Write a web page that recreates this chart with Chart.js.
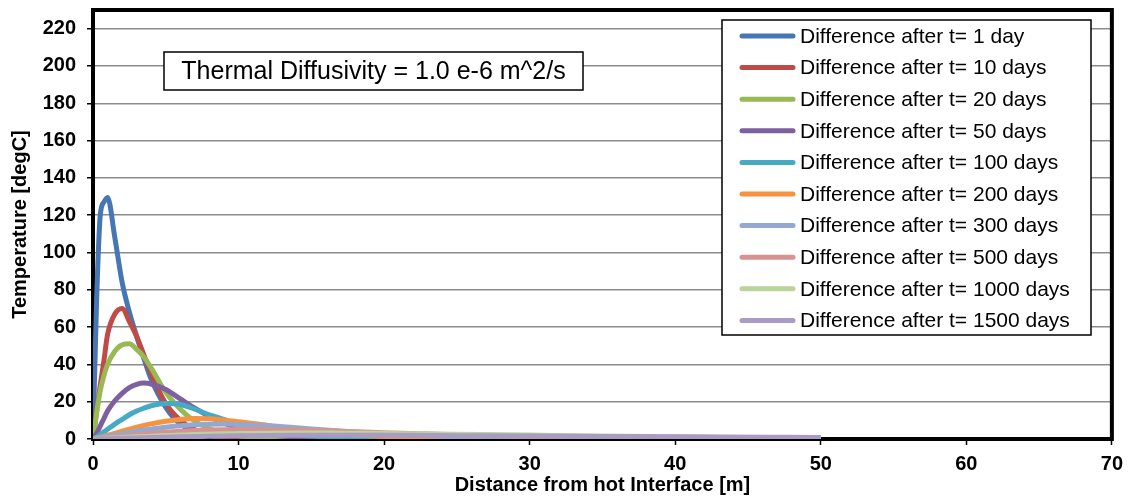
<!DOCTYPE html>
<html>
<head>
<meta charset="utf-8">
<script src="https://cdn.jsdelivr.net/npm/chart.js@4"></script>
<style>
  html, body { margin: 0; padding: 0; background: #fff; }
  #wrap { width: 1130px; height: 497px; }
</style>
</head>
<body>
<div id="wrap"><canvas id="chart"></canvas></div>
<script>
// distance from hot interface [m]
const distances = [0, 0.25, 0.5, 0.75, 1, 1.5, 2, 2.5, 3, 3.5, 4, 5, 6, 7, 8, 9, 10, 12, 14, 16, 18, 20, 25, 30, 35, 40, 45, 50];

const labels = [
    'Difference after t= 1 day',
    'Difference after t= 10 days',
    'Difference after t= 20 days',
    'Difference after t= 50 days',
    'Difference after t= 100 days',
    'Difference after t= 200 days',
    'Difference after t= 300 days',
    'Difference after t= 500 days',
    'Difference after t= 1000 days',
    'Difference after t= 1500 days'
];
const colors = ['#4676B4', '#BE4B48', '#98B954', '#7D60A0', '#46AAC5', '#F69240', '#93A9D1', '#D69391', '#BBD49A', '#A99BC3'];

// temperature difference [degC]
const t1    = [0, 75, 120, 127, 129.5, 108, 84, 68, 55, 43, 32, 17, 8, 4, 1.8, 0.8, 0.4, 0.1, 0, 0, 0, 0, 0, 0, 0, 0, 0, 0];
const t10   = [0, 15, 29, 42, 56, 67, 70, 63, 55, 45, 35, 19, 10, 5, 2.5, 1.2, 0.6, 0.2, 0.1, 0, 0, 0, 0, 0, 0, 0, 0, 0];
const t20   = [0, 14, 26, 34, 40, 47, 50.5, 51, 48, 44, 38, 25, 16, 9.5, 5.5, 3, 1.8, 0.6, 0.2, 0.1, 0, 0, 0, 0, 0, 0, 0, 0];
const t50   = [0, 3, 7, 11, 15, 20.5, 24.5, 27.5, 29.3, 30, 29.5, 26.5, 21.5, 16.5, 12, 8.5, 6, 2.5, 1, 0.4, 0.2, 0.1, 0, 0, 0, 0, 0, 0];
const t100  = [0, 1, 2.5, 3.8, 5.2, 8, 10.5, 13, 15, 16.5, 17.8, 19, 18.5, 16, 13, 10.5, 8, 4.5, 2.3, 1.1, 0.5, 0.2, 0.05, 0, 0, 0, 0, 0];
const t200  = [0, 0.5, 1, 1.5, 2, 3, 4.2, 5.3, 6.3, 7.3, 8.1, 9.5, 10.5, 11, 10.8, 10, 9.2, 7.3, 5.3, 3.6, 2.3, 1.4, 0.4, 0.1, 0, 0, 0, 0];
const t300  = [0, 0.4, 0.8, 1.1, 1.5, 2.2, 2.9, 3.6, 4.2, 4.8, 5.3, 6.3, 7.1, 7.6, 7.9, 8, 7.8, 7.1, 6, 4.8, 3.7, 2.8, 1.2, 0.5, 0.2, 0.1, 0, 0];
const t500  = [0, 0.2, 0.4, 0.6, 0.8, 1.2, 1.6, 2, 2.3, 2.7, 3, 3.6, 4.1, 4.5, 4.8, 5, 5.1, 5.1, 4.8, 4.4, 3.9, 3.4, 2.3, 1.4, 0.8, 0.5, 0.3, 0.2];
const t1000 = [0, 0.1, 0.2, 0.3, 0.4, 0.6, 0.8, 1, 1.2, 1.3, 1.5, 1.8, 2.1, 2.4, 2.6, 2.8, 2.9, 3.1, 3.2, 3.2, 3.1, 3, 2.6, 2.1, 1.6, 1.2, 0.9, 0.6];
const t1500 = [0, 0.05, 0.1, 0.15, 0.2, 0.3, 0.4, 0.5, 0.6, 0.7, 0.8, 1, 1.2, 1.3, 1.5, 1.6, 1.7, 1.9, 2, 2, 2, 2, 1.8, 1.6, 1.4, 1.2, 1, 0.8];

const series = [t1, t10, t20, t50, t100, t200, t300, t500, t1000, t1500];

const xTicks = [0, 10, 20, 30, 40, 50, 60, 70];
const yTicks = [0, 20, 40, 60, 80, 100, 120, 140, 160, 180, 200, 220];

const noteText = 'Thermal Diffusivity = 1.0 e-6 m^2/s';

const datasets = series.map((vals, i) => ({
    label: labels[i],
    data: vals.map((v, j) => ({ x: distances[j], y: v })),
    borderColor: colors[i],
    backgroundColor: colors[i],
    borderWidth: 5,
    pointRadius: 0,
    fill: false,
    cubicInterpolationMode: 'monotone',
    order: series.length - i
}));

// black frame around plot area, under the lines
const framePlugin = {
    id: 'frame',
    beforeDatasetsDraw(chart) {
        const a = chart.chartArea;
        const ctx = chart.ctx;
        ctx.save();
        ctx.strokeStyle = '#000';
        ctx.lineWidth = 4;
        ctx.strokeRect(a.left, a.top, a.right - a.left, a.bottom - a.top);
        ctx.restore();
    }
};

// note box and legend box drawn inside the plot
const boxesPlugin = {
    id: 'boxes',
    afterDatasetsDraw(chart) {
        const ctx = chart.ctx;
        ctx.save();

        // note box
        ctx.fillStyle = '#fff';
        ctx.fillRect(164, 52, 419, 38);
        ctx.strokeStyle = '#000';
        ctx.lineWidth = 1.5;
        ctx.strokeRect(164, 52, 419, 38);
        ctx.fillStyle = '#000';
        ctx.font = '25px "Liberation Sans", Arial, sans-serif';
        ctx.textAlign = 'center';
        ctx.textBaseline = 'middle';
        ctx.fillText(noteText, 373.5, 72);

        // legend
        ctx.fillStyle = '#fff';
        ctx.fillRect(722, 20, 369, 315);
        ctx.strokeStyle = '#000';
        ctx.lineWidth = 1.5;
        ctx.strokeRect(722, 20, 369, 315);
        ctx.font = '21px "Liberation Sans", Arial, sans-serif';
        ctx.textAlign = 'left';
        ctx.textBaseline = 'middle';
        chart.data.datasets.forEach((ds, i) => {
            const y = 36 + i * 31.6;
            ctx.strokeStyle = ds.borderColor;
            ctx.lineWidth = 5;
            ctx.lineCap = 'round';
            ctx.beginPath();
            ctx.moveTo(742, y);
            ctx.lineTo(793, y);
            ctx.stroke();
            ctx.fillStyle = '#000';
            ctx.fillText(ds.label, 800, y + 1);
        });
        ctx.restore();
    }
};

new Chart(document.getElementById('chart'), {
    type: 'line',
    data: { datasets: datasets },
    plugins: [framePlugin, boxesPlugin],
    options: {
        responsive: true,
        maintainAspectRatio: false,
        animation: false,
        layout: { padding: { top: 10, right: 18, left: 0, bottom: 0 } },
        plugins: {
            legend: { display: false },
            tooltip: { enabled: false }
        },
        scales: {
            x: {
                type: 'linear',
                min: 0,
                max: 70,
                afterBuildTicks: scale => { scale.ticks = xTicks.map(v => ({ value: v })); },
                afterFit: scale => { scale.height = 58; },
                border: { display: false },
                grid: {
                    drawOnChartArea: false,
                    drawTicks: true,
                    tickLength: 6,
                    tickColor: '#000',
                    tickWidth: 1.5
                },
                ticks: {
                    color: '#000',
                    padding: 7,
                    maxRotation: 0,
                    font: { family: '"Liberation Sans", Arial, sans-serif', size: 20, weight: 'bold' }
                },
                title: {
                    display: true,
                    text: 'Distance from hot Interface [m]',
                    color: '#000',
                    padding: { top: 0, bottom: 0 },
                    font: { family: '"Liberation Sans", Arial, sans-serif', size: 20, weight: 'bold' }
                }
            },
            y: {
                min: 0,
                max: 230,
                afterBuildTicks: scale => { scale.ticks = yTicks.map(v => ({ value: v })); },
                afterFit: scale => {
                    scale.width = 93;
                    scale.paddingTop = 0;
                    scale.paddingBottom = 0;
                },
                border: { display: false },
                grid: {
                    color: '#8C8C8C',
                    lineWidth: 1.5,
                    drawTicks: true,
                    tickLength: 6,
                    tickColor: '#000',
                    tickWidth: 1.5
                },
                ticks: {
                    color: '#000',
                    padding: 11,
                    font: { family: '"Liberation Sans", Arial, sans-serif', size: 20, weight: 'bold' }
                },
                title: {
                    display: true,
                    text: 'Temperature [degC]',
                    color: '#000',
                    padding: { top: 8, bottom: 0 },
                    font: { family: '"Liberation Sans", Arial, sans-serif', size: 20, weight: 'bold' }
                }
            }
        }
    }
});
</script>
</body>
</html>
